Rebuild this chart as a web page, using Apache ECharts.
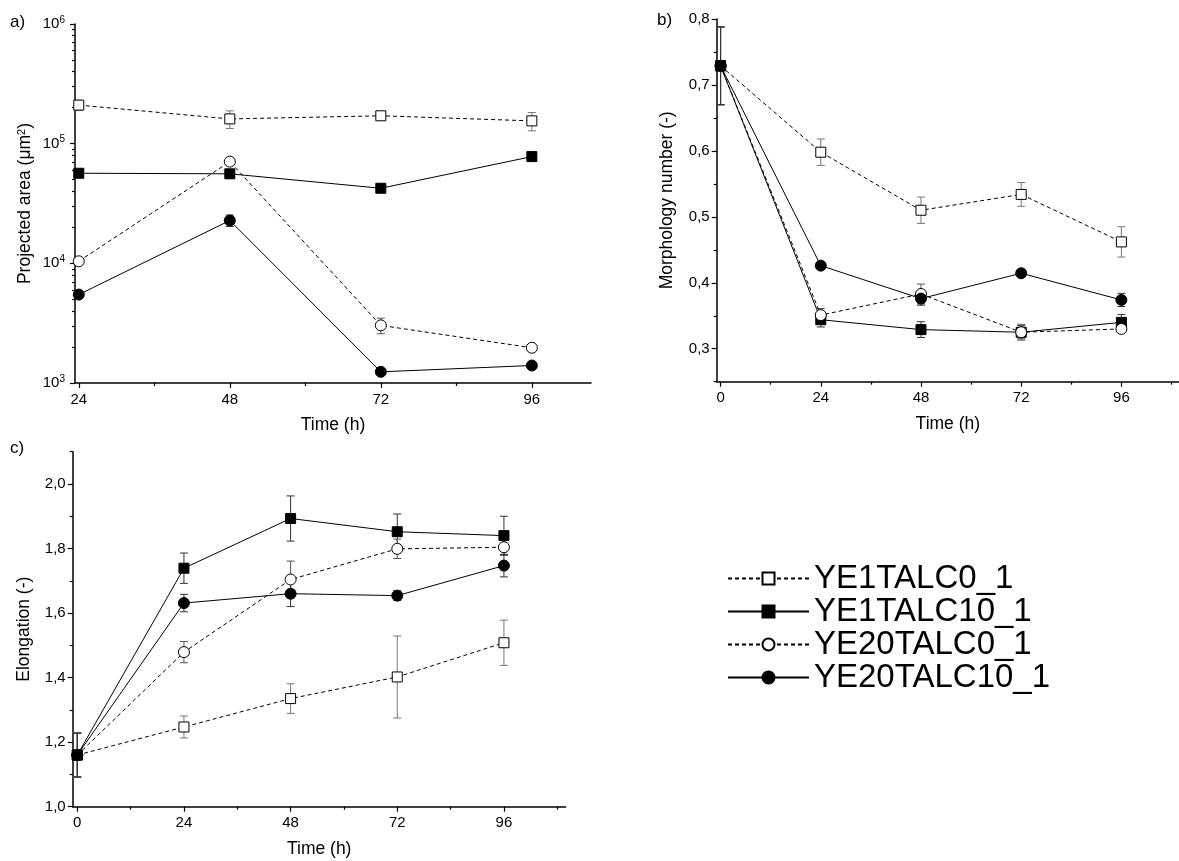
<!DOCTYPE html>
<html>
<head>
<meta charset="utf-8">
<title>Morphology over time</title>
<script src="https://cdn.jsdelivr.net/npm/echarts@6/dist/echarts.min.js"></script>
<style>
  html, body { margin: 0; background: #fff; }
  #chart { width: 1179px; height: 861px; }
</style>
</head>
<body>
<div id="chart"></div>
<script>
var seriesNames = ['YE1TALC0_1', 'YE1TALC10_1', 'YE20TALC0_1', 'YE20TALC10_1'];

var timesA = [24, 48, 72, 96];
var timesBC = [0, 24, 48, 72, 96];

// a) projected area (µm²), mean and error
var areaYE1TALC0 = [210000, 161000, 171000, 155000];
var areaErrYE1TALC0 = [20000, 27000, 10000, 27000];
var areaYE1TALC10 = [56600, 56000, 42400, 78000];
var areaErrYE1TALC10 = [2500, 2500, 1500, 3000];
var areaYE20TALC0 = [10400, 70800, 3030, 1970];
var areaErrYE20TALC0 = [700, 5000, 450, 100];
var areaYE20TALC10 = [5480, 22800, 1240, 1400];
var areaErrYE20TALC10 = [300, 2500, 60, 60];

// b) morphology number
var morphYE1TALC0 = [0.729, 0.598, 0.510, 0.534, 0.462];
var morphErrYE1TALC0 = [0.059, 0.020, 0.020, 0.018, 0.023];
var morphYE1TALC10 = [0.729, 0.344, 0.329, 0.325, 0.340];
var morphErrYE1TALC10 = [0.059, 0.011, 0.012, 0.010, 0.012];
var morphYE20TALC0 = [0.729, 0.351, 0.383, 0.325, 0.330];
var morphErrYE20TALC0 = [0.059, 0.010, 0.015, 0.012, 0.005];
var morphYE20TALC10 = [0.729, 0.426, 0.376, 0.4145, 0.374];
var morphErrYE20TALC10 = [0.059, 0.005, 0.010, 0.005, 0.010];

// c) elongation
var elongYE1TALC0 = [1.16, 1.247, 1.335, 1.402, 1.508];
var elongErrYE1TALC0 = [0.068, 0.034, 0.046, 0.127, 0.070];
var elongYE1TALC10 = [1.16, 1.739, 1.893, 1.852, 1.840];
var elongErrYE1TALC10 = [0.068, 0.047, 0.070, 0.055, 0.060];
var elongYE20TALC0 = [1.16, 1.479, 1.704, 1.799, 1.804];
var elongErrYE20TALC0 = [0.068, 0.033, 0.057, 0.030, 0.025];
var elongYE20TALC10 = [1.16, 1.631, 1.660, 1.654, 1.747];
var elongErrYE20TALC10 = [0.068, 0.027, 0.040, 0.015, 0.035];

// tick labels
var xTicksA = [24, 48, 72, 96];
var xMinorA = [36, 60, 84];
var xTicksBC = [0, 24, 48, 72, 96];
var xMinorBC = [12, 36, 60, 84, 108];
var yDecadesA = [3, 4, 5, 6];
var yMinorMultA = [2, 3, 4, 5, 6, 7, 8, 9];
var yTicksB = [0.3, 0.4, 0.5, 0.6, 0.7, 0.8];
var yMinorB = [0.25, 0.35, 0.45, 0.55, 0.65, 0.75];
var yTicksC = [1.0, 1.2, 1.4, 1.6, 1.8, 2.0];
var yMinorC = [1.1, 1.3, 1.5, 1.7, 1.9, 2.1];

var FONT = '"Liberation Sans", Arial, sans-serif';

var styles = {
  'YE1TALC0_1':  { symbol: 'rect',   size: 10, fill: '#fff', dash: [4, 3], err: '#777' },
  'YE1TALC10_1': { symbol: 'rect',   size: 10, fill: '#000', dash: 'solid', err: '#333' },
  'YE20TALC0_1': { symbol: 'circle', size: 11, fill: '#fff', dash: [4, 3], err: '#555' },
  'YE20TALC10_1':{ symbol: 'circle', size: 11, fill: '#000', dash: 'solid', err: '#333' }
};

var chart = echarts.init(document.getElementById('chart'));

function zip(xs, ys) {
  return xs.map(function (x, i) { return [x, ys[i]]; });
}

function lineSeries(name, xs, ys, axisIdx, z) {
  var s = styles[name];
  return {
    name: name,
    type: 'line',
    xAxisIndex: axisIdx,
    yAxisIndex: axisIdx,
    data: zip(xs, ys),
    symbol: s.symbol,
    symbolSize: s.size,
    z: z || 3,
    lineStyle: { color: '#000', width: 1, type: s.dash },
    itemStyle: { color: s.fill, borderColor: '#000', borderWidth: 1 },
    emphasis: { disabled: true }
  };
}

// error bars: vertical line with caps, drawn under the markers
function errSeries(name, xs, ys, errs, axisIdx) {
  var color = styles[name].err;
  return {
    type: 'custom',
    xAxisIndex: axisIdx,
    yAxisIndex: axisIdx,
    z: 1,
    silent: true,
    data: xs.map(function (x, i) { return [x, ys[i] - errs[i], ys[i] + errs[i]]; }),
    encode: { x: 0, y: [1, 2] },
    renderItem: function (params, api) {
      var x = api.value(0);
      var lo = api.coord([x, api.value(1)]);
      var hi = api.coord([x, api.value(2)]);
      var w = 4;
      var st = { stroke: color, lineWidth: 1 };
      return {
        type: 'group',
        children: [
          { type: 'line', shape: { x1: lo[0], y1: lo[1], x2: hi[0], y2: hi[1] }, style: st },
          { type: 'line', shape: { x1: lo[0] - w, y1: lo[1], x2: lo[0] + w, y2: lo[1] }, style: st },
          { type: 'line', shape: { x1: hi[0] - w, y1: hi[1], x2: hi[0] + w, y2: hi[1] }, style: st }
        ]
      };
    }
  };
}

var axisLine = { onZero: false, lineStyle: { color: '#000', width: 1.5 } };
var labelStyle = { color: '#000', fontSize: 15, fontFamily: FONT };
var nameStyle = { color: '#000', fontSize: 17.5, fontFamily: FONT };

function comma(v) { return v.toFixed(1).replace('.', ','); }

function xMain(grid, min, max, ticks) {
  return {
    type: 'value', gridIndex: grid, position: 'bottom', min: min, max: max,
    name: 'Time (h)', nameLocation: 'middle', nameGap: 33, nameTextStyle: nameStyle,
    axisLine: axisLine,
    axisTick: { show: true, inside: false, length: 5, customValues: ticks, lineStyle: { color: '#000', width: 1.2 } },
    axisLabel: Object.assign({ customValues: ticks, margin: 9 }, labelStyle),
    splitLine: { show: false }
  };
}
function xMinor(grid, min, max, ticks) {
  return {
    type: 'value', gridIndex: grid, position: 'bottom', min: min, max: max,
    axisLine: { show: false, onZero: false },
    axisTick: { show: true, length: 3, customValues: ticks, lineStyle: { color: '#000', width: 1.2 } },
    axisLabel: { show: false },
    splitLine: { show: false }
  };
}
function yMinor(grid, min, max, ticks) {
  return {
    type: 'value', gridIndex: grid, position: 'left', min: min, max: max,
    axisLine: { show: false, onZero: false },
    axisTick: { show: true, length: 3, customValues: ticks, lineStyle: { color: '#000', width: 1.2 } },
    axisLabel: { show: false },
    splitLine: { show: false }
  };
}

var yMinorTicksA = [];
yDecadesA.slice(0, 3).forEach(function (d) {
  yMinorMultA.forEach(function (m) { yMinorTicksA.push(d + Math.log10(m)); });
});

var option = {
  animation: false,
  backgroundColor: '#fff',
  textStyle: { fontFamily: FONT },
  graphic: [
    { type: 'text', left: 10, top: 14, style: { text: 'a)', fontSize: 17, fontFamily: FONT, fill: '#000' } },
    { type: 'text', left: 657, top: 12, style: { text: 'b)', fontSize: 17, fontFamily: FONT, fill: '#000' } },
    { type: 'text', left: 10, top: 440, style: { text: 'c)', fontSize: 17, fontFamily: FONT, fill: '#000' } }
  ],
  legend: {
    data: seriesNames,
    orient: 'vertical',
    left: 727,
    top: 562,
    padding: 0,
    itemWidth: 81,
    itemHeight: 15,
    itemGap: 0,
    selectedMode: false,
    textStyle: { fontSize: 33, fontFamily: FONT, color: '#000', lineHeight: 32 }
  },
  grid: [
    { left: 75, top: 24, width: 516, height: 359 },
    { left: 716.7, top: 19, width: 475.3, height: 362.7 },
    { left: 72.7, top: 451.7, width: 493, height: 355 }
  ],
  xAxis: [
    xMain(0, 23.4, 105.4, xTicksA),
    xMinor(0, 23.4, 105.4, xMinorA),
    xMain(1, -0.93, 109.8, xTicksBC),
    xMinor(1, -0.93, 109.8, xMinorBC),
    xMain(2, -1.03, 109.9, xTicksBC),
    xMinor(2, -1.03, 109.9, xMinorBC)
  ],
  yAxis: [
    {
      type: 'log', logBase: 10, gridIndex: 0, position: 'left', min: 1000, max: 1000000, interval: 1,
      name: 'Projected area (\u03bcm{s|2})', nameLocation: 'middle', nameGap: 40,
      nameTextStyle: Object.assign({ rich: { s: { fontSize: 11, fontFamily: FONT, color: '#000', verticalAlign: 'top', padding: [0, 0, 8, 0] } } }, nameStyle),
      axisLine: axisLine,
      axisTick: { show: true, length: 5, lineStyle: { color: '#000', width: 1.2 } },
      axisLabel: {
        margin: 10,
        formatter: function (v) { return '{b|10}{s|' + Math.round(Math.log10(v)) + '}'; },
        rich: {
          b: { fontSize: 15, fontFamily: FONT, color: '#000' },
          s: { fontSize: 10, fontFamily: FONT, color: '#000', padding: [0, 0, 8, 0] }
        }
      },
      splitLine: { show: false }
    },
    yMinor(0, 3, 6, yMinorTicksA),
    {
      type: 'value', gridIndex: 1, position: 'left', min: 0.25, max: 0.8,
      name: 'Morphology number (-)', nameLocation: 'middle', nameGap: 41, nameTextStyle: nameStyle,
      axisLine: axisLine,
      axisTick: { show: true, length: 5, customValues: yTicksB, lineStyle: { color: '#000', width: 1.2 } },
      axisLabel: Object.assign({ customValues: yTicksB, margin: 7, formatter: comma }, labelStyle),
      splitLine: { show: false }
    },
    yMinor(1, 0.25, 0.8, yMinorB),
    {
      type: 'value', gridIndex: 2, position: 'left', min: 1.0, max: 2.1,
      name: 'Elongation (-)', nameLocation: 'middle', nameGap: 40, nameTextStyle: nameStyle,
      axisLine: axisLine,
      axisTick: { show: true, length: 5, customValues: yTicksC, lineStyle: { color: '#000', width: 1.2 } },
      axisLabel: Object.assign({ customValues: yTicksC, margin: 7, formatter: comma }, labelStyle),
      splitLine: { show: false }
    },
    yMinor(2, 1.0, 2.1, yMinorC)
  ],
  series: [
    // a)
    errSeries('YE1TALC0_1', timesA, areaYE1TALC0, areaErrYE1TALC0, 0),
    errSeries('YE1TALC10_1', timesA, areaYE1TALC10, areaErrYE1TALC10, 0),
    errSeries('YE20TALC0_1', timesA, areaYE20TALC0, areaErrYE20TALC0, 0),
    errSeries('YE20TALC10_1', timesA, areaYE20TALC10, areaErrYE20TALC10, 0),
    lineSeries('YE1TALC0_1', timesA, areaYE1TALC0, 0),
    lineSeries('YE1TALC10_1', timesA, areaYE1TALC10, 0),
    lineSeries('YE20TALC0_1', timesA, areaYE20TALC0, 0),
    lineSeries('YE20TALC10_1', timesA, areaYE20TALC10, 0),
    // b)
    errSeries('YE1TALC0_1', timesBC, morphYE1TALC0, morphErrYE1TALC0, 2),
    errSeries('YE1TALC10_1', timesBC, morphYE1TALC10, morphErrYE1TALC10, 2),
    errSeries('YE20TALC0_1', timesBC, morphYE20TALC0, morphErrYE20TALC0, 2),
    errSeries('YE20TALC10_1', timesBC, morphYE20TALC10, morphErrYE20TALC10, 2),
    lineSeries('YE1TALC0_1', timesBC, morphYE1TALC0, 2),
    lineSeries('YE1TALC10_1', timesBC, morphYE1TALC10, 2),
    lineSeries('YE20TALC0_1', timesBC, morphYE20TALC0, 2),
    lineSeries('YE20TALC10_1', timesBC, morphYE20TALC10, 2),
    // c)
    errSeries('YE1TALC0_1', timesBC, elongYE1TALC0, elongErrYE1TALC0, 4),
    errSeries('YE1TALC10_1', timesBC, elongYE1TALC10, elongErrYE1TALC10, 4),
    errSeries('YE20TALC0_1', timesBC, elongYE20TALC0, elongErrYE20TALC0, 4),
    errSeries('YE20TALC10_1', timesBC, elongYE20TALC10, elongErrYE20TALC10, 4),
    lineSeries('YE1TALC0_1', timesBC, elongYE1TALC0, 4),
    lineSeries('YE20TALC0_1', timesBC, elongYE20TALC0, 4),
    lineSeries('YE20TALC10_1', timesBC, elongYE20TALC10, 4),
    lineSeries('YE1TALC10_1', timesBC, elongYE1TALC10, 4, 4)
  ]
};

chart.setOption(option);
</script>
</body>
</html>
